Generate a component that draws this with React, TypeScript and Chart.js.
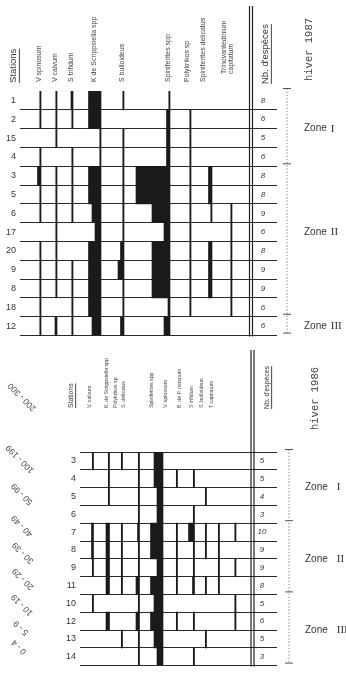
import React, { useEffect, useRef } from "react";
import { Chart, registerables } from "chart.js";

Chart.register(...registerables);

// ---------------- data ----------------
const abundanceClasses = ["0 - 4", "5 - 9", "10 - 19", "20 - 29", "30 - 39", "40 - 49", "50 - 99", "100 - 199", "200 - 300"];

const stations1987 = ["1", "2", "15", "4", "3", "5", "6", "17", "20", "9", "8", "18", "12"];
const species1987 = [
  "V spinosum", "V calvum", "S trifidum", "K de Scrippsiella spp", "S bulloideus",
  "Spiniferites spp", "Polykrikos sp", "Spiniferites delicatus", "Trinovantedinium capitatum",
];
// abundance class index (into abundanceClasses) per station (row) and species (column); null = absent
const classes1987: (number | null)[][] = [
  [0, 0, 1, 5, 0, 0, null, null, null],
  [0, 0, 0, 5, null, 2, 0, null, null],
  [null, 0, null, 0, 0, 2, 0, null, null],
  [0, null, 0, 0, 0, 2, 0, null, null],
  [2, 0, 0, 5, 0, 8, 0, 2, null],
  [0, 0, 0, 5, 0, 8, 0, 2, null],
  [0, 0, 0, 4, 0, 6, 0, 0, 0],
  [null, 0, null, 3, 0, 3, 0, null, 0],
  [0, 0, null, 5, 2, 6, 0, 2, 0],
  [0, 0, 0, 5, 3, 6, 0, 2, 0],
  [0, 0, 0, 5, 0, 6, 0, 2, 0],
  [0, null, 0, 5, 0, 1, 0, null, 0],
  [0, 1, 0, 4, 2, 3, null, null, null],
];
const nbSpecies1987 = [8, 6, 5, 6, 8, 8, 9, 6, 8, 9, 9, 6, 6];
const zones1987 = ["I", "II", "III"];
const zoneRows1987 = [[0, 3], [4, 11], [12, 12]];

const stations1986 = ["3", "4", "5", "6", "7", "8", "9", "11", "10", "12", "13", "14"];
const species1986 = [
  "V. calvum", "K. de Scrippsiella spp", "Polykrikos sp", "S. delicatus", "Spiniferites spp",
  "V. spinosum", "B. de P. minutum", "S trifidum", "S. bulloideus", "T capitatum",
];
const classes1986: (number | null)[][] = [
  [0, 0, 0, 0, 4, null, null, null, null, null],
  [null, 0, null, 0, 4, 0, 0, null, null, null],
  [null, 0, null, 0, 3, null, null, 0, null, null],
  [null, null, null, 0, 3, null, 0, null, null, null],
  [1, 2, 0, 1, 5, 0, 3, 0, 0, 0],
  [1, 2, 0, 0, 5, 0, 0, 0, 0, null],
  [0, 2, 0, 0, 3, 0, 0, null, 0, 0],
  [null, 2, 0, 2, 5, 0, 1, 0, 0, null],
  [0, null, null, 0, 4, null, null, null, null, 0],
  [null, 2, null, 2, 5, 0, 0, null, null, 0],
  [null, null, 0, 0, 4, null, null, 0, null, null],
  [null, null, null, 0, 3, null, 0, null, null, null],
];
const nbSpecies1986 = [5, 5, 4, 3, 10, 9, 9, 8, 5, 6, 5, 3];
const zones1986 = ["I", "II", "III"];
const zoneRows1986 = [[0, 3], [4, 7], [8, 11]];

// ---------------- layout / style ----------------
const CLASS_WIDTH = [1.2, 2, 3.5, 6, 9, 12.5, 18, 26, 34];
const INK = "#1a1a1a";
const TEXT = "#333";
const SANS = '"Liberation Sans", Arial, sans-serif';

type PanelCfg = {
  title: string;
  stations: string[];
  species: string[];
  classes: (number | null)[][];
  nb: number[];
  zones: string[];
  zoneRows: number[][];
  zoneLabelRow: (number | null)[];
  top: number;
  height: number;
  axisWidth: number;
  rowsTop: number;
  rowsBottom: number;
  xMax: number;
  anchors: number[];
  headerX: number[];
  headerBottom: number;
  headerFont: number;
  stationsX: number;
  stationsBottom: number;
  stationsFont: number;
  nbX: number;
  nbBottom: number;
  nbFont: number;
  nbValueX: number;
  doubleTop: number;
  doubleX: number;
  zoneX: number;
  zoneLabelX: number;
  zoneGap: number;
  titleX: number;
  titleBottom: number;
  hideTopLine: boolean;
  legend: boolean;
};

const panel1987: PanelCfg = {
  title: "hiver 1987",
  stations: stations1987,
  species: species1987,
  classes: classes1987,
  nb: nbSpecies1987,
  zones: zones1987,
  zoneRows: zoneRows1987,
  zoneLabelRow: [null, 7, null],
  top: 0,
  height: 345,
  axisWidth: 20,
  rowsTop: 91,
  rowsBottom: 337,
  xMax: 277,
  anchors: [41, 57, 73, 101, 124, 170, 191, 212, 232],
  headerX: [39, 55, 71, 94, 122, 168, 187, 203, 224],
  headerBottom: 82,
  headerFont: 7,
  stationsX: 13,
  stationsBottom: 83,
  stationsFont: 9.5,
  nbX: 265,
  nbBottom: 84,
  nbFont: 9.5,
  nbValueX: 263,
  doubleTop: 6,
  doubleX: 249.5,
  zoneX: 287,
  zoneLabelX: 304,
  zoneGap: 4,
  titleX: 309,
  titleBottom: 81,
  hideTopLine: true,
  legend: false,
};

const panel1986: PanelCfg = {
  title: "hiver 1986",
  stations: stations1986,
  species: species1986,
  classes: classes1986,
  nb: nbSpecies1986,
  zones: zones1986,
  zoneRows: zoneRows1986,
  zoneLabelRow: [null, null, null],
  top: 345,
  height: 330,
  axisWidth: 80,
  rowsTop: 107,
  rowsBottom: 329,
  xMax: 277,
  anchors: [93.5, 109.5, 122.5, 139.5, 163, 177.5, 194.5, 206.5, 219.5, 236],
  headerX: [90, 107, 116, 124, 152, 166, 180, 192, 202, 212],
  headerBottom: 63,
  headerFont: 5.2,
  stationsX: 71,
  stationsBottom: 63,
  stationsFont: 6.8,
  nbX: 267,
  nbBottom: 64,
  nbFont: 6.8,
  nbValueX: 262,
  doubleTop: 5,
  doubleX: 251,
  zoneX: 289,
  zoneLabelX: 305,
  zoneGap: 9,
  titleX: 315,
  titleBottom: 85,
  hideTopLine: false,
  legend: true,
};

// legend label centres (bottom panel canvas coords), listed from largest class to smallest
const LEGEND_POS = [
  [22, 52], [20, 114], [22, 149], [22, 181], [23, 208], [23, 234], [22, 260], [21, 283], [19, 302],
];

function vText(
  ctx: CanvasRenderingContext2D,
  text: string,
  x: number,
  yBottom: number,
  size: number,
  font: string,
  color: string,
  underline = false
) {
  ctx.save();
  ctx.translate(x, yBottom);
  ctx.rotate(-Math.PI / 2);
  ctx.font = font;
  ctx.fillStyle = color;
  ctx.textAlign = "left";
  ctx.textBaseline = "middle";
  ctx.fillText(text, 0, 0);
  if (underline) {
    const w = ctx.measureText(text).width;
    ctx.fillRect(0, size * 0.62, w, 0.9);
  }
  ctx.restore();
}

function makeOverlay(cfg: PanelCfg) {
  return {
    id: "overlay",
    afterDraw(chart: any) {
      const ctx: CanvasRenderingContext2D = chart.ctx;
      const xs = chart.scales.x;
      const ys = chart.scales.y;
      const n = cfg.stations.length;
      const rowH = (ys.bottom - ys.top) / n;
      const rowTop = (i: number) => ys.top + i * rowH;
      ctx.save();

      // species headers
      cfg.species.forEach((sp, j) => {
        const x = xs.getPixelForValue(cfg.headerX[j]);
        const f = `${cfg.headerFont}px ${SANS}`;
        if (sp === "Trinovantedinium capitatum") {
          vText(ctx, "Trinovantedinium", x, cfg.headerBottom - 8, cfg.headerFont, f, "#444");
          vText(ctx, "capitatum", x + cfg.headerFont * 0.95, cfg.headerBottom - 8, cfg.headerFont, f, "#444");
        } else {
          vText(ctx, sp, x, cfg.headerBottom, cfg.headerFont, f, "#444");
        }
      });

      // "Stations" and "Nb. d'espèces"
      vText(ctx, "Stations", cfg.stationsX, cfg.stationsBottom, cfg.stationsFont,
        `${cfg.stationsFont}px ${SANS}`, TEXT, true);
      vText(ctx, "Nb. d'espèces", cfg.nbX, cfg.nbBottom, cfg.nbFont,
        `${cfg.nbFont}px ${SANS}`, TEXT, true);

      // double line
      ctx.strokeStyle = "#222";
      ctx.lineWidth = 1.2;
      [cfg.doubleX, cfg.doubleX + 3].forEach((x) => {
        ctx.beginPath();
        ctx.moveTo(x, cfg.doubleTop);
        ctx.lineTo(x, ys.bottom + 1);
        ctx.stroke();
      });

      // species counts
      ctx.fillStyle = TEXT;
      ctx.font = `italic 8px ${SANS}`;
      ctx.textAlign = "center";
      ctx.textBaseline = "middle";
      cfg.nb.forEach((v, i) => {
        ctx.fillText(String(v), cfg.nbValueX, ys.getPixelForTick(i));
      });

      // zones
      const zTop = rowTop(cfg.zoneRows[0][0]) - 2.5;
      const zBot = rowTop(cfg.zoneRows[cfg.zoneRows.length - 1][1] + 1) - 2;
      ctx.strokeStyle = "#777";
      ctx.lineWidth = 1;
      ctx.setLineDash([1.2, 2]);
      ctx.beginPath();
      ctx.moveTo(cfg.zoneX, zTop);
      ctx.lineTo(cfg.zoneX, zBot);
      ctx.stroke();
      ctx.setLineDash([]);
      ctx.strokeStyle = "#555";
      const ticks = [zTop, ...cfg.zoneRows.map((r) => rowTop(r[1] + 1) - 2.5)];
      ticks.forEach((y) => {
        ctx.beginPath();
        ctx.moveTo(cfg.zoneX - 4, y);
        ctx.lineTo(cfg.zoneX + 4, y);
        ctx.stroke();
      });
      cfg.zones.forEach((z, k) => {
        const [a, b] = cfg.zoneRows[k];
        const lr = cfg.zoneLabelRow[k];
        const y = lr != null ? ys.getPixelForTick(lr) : (rowTop(a) + rowTop(b + 1)) / 2;
        ctx.fillStyle = TEXT;
        ctx.textAlign = "left";
        ctx.textBaseline = "middle";
        ctx.font = `10px ${SANS}`;
        ctx.fillText("Zone", cfg.zoneLabelX, y);
        const w = ctx.measureText("Zone").width;
        ctx.font = `11px "Liberation Serif", serif`;
        ctx.fillText(z, cfg.zoneLabelX + w + cfg.zoneGap, y);
      });

      // title
      vText(ctx, cfg.title, cfg.titleX, cfg.titleBottom, 10.5,
        `10.5px "Liberation Mono", "DejaVu Sans Mono", monospace`, "#444");

      // abundance class legend
      if (cfg.legend) {
        const labels = abundanceClasses.slice().reverse();
        ctx.fillStyle = "#444";
        ctx.font = `8.5px ${SANS}`;
        ctx.textAlign = "center";
        ctx.textBaseline = "middle";
        labels.forEach((t, i) => {
          const [cx, cy] = LEGEND_POS[i];
          ctx.save();
          ctx.translate(cx, cy);
          ctx.rotate((-3 * Math.PI) / 4);
          ctx.fillText(t, 0, 0);
          ctx.restore();
        });
      }
      ctx.restore();
    },
  };
}

function Panel({ cfg }: { cfg: PanelCfg }) {
  const ref = useRef<HTMLCanvasElement>(null);
  useEffect(() => {
    const datasets = cfg.species.map((sp, j) => ({
      label: sp,
      data: cfg.classes.map((row) =>
        row[j] == null ? null : [cfg.anchors[j] - CLASS_WIDTH[row[j] as number], cfg.anchors[j]]
      ),
      backgroundColor: INK,
      borderWidth: 0,
      grouped: false,
      barPercentage: 1,
      categoryPercentage: 1,
    }));
    const chart = new Chart(ref.current as HTMLCanvasElement, {
      type: "bar",
      data: { labels: cfg.stations, datasets: datasets as any },
      options: {
        responsive: false,
        maintainAspectRatio: false,
        animation: false,
        indexAxis: "y",
        layout: {
          padding: {
            top: cfg.rowsTop,
            bottom: cfg.height - cfg.rowsBottom,
            left: 0,
            right: 346 - cfg.xMax,
          },
        },
        plugins: {
          legend: { display: false },
          tooltip: { enabled: false },
        },
        scales: {
          x: { type: "linear", display: false, min: cfg.axisWidth, max: cfg.xMax },
          y: {
            type: "category",
            offset: true,
            afterFit: (s: any) => {
              s.width = cfg.axisWidth;
            },
            border: { display: false },
            grid: {
              offset: true,
              drawTicks: false,
              lineWidth: 1,
              color: (c: any) => (cfg.hideTopLine && c.index === 0 ? "rgba(0,0,0,0)" : "#2a2a2a"),
            },
            ticks: {
              autoSkip: false,
              padding: 4,
              color: TEXT,
              font: { family: "Liberation Sans", size: 9 },
            },
          },
        } as any,
      },
      plugins: [makeOverlay(cfg)],
    });
    return () => chart.destroy();
  }, [cfg]);
  return (
    <canvas
      ref={ref}
      width={346}
      height={cfg.height}
      style={{ position: "absolute", left: 0, top: cfg.top, width: 346, height: cfg.height }}
    />
  );
}

export default function App() {
  return (
    <div
      style={{
        position: "fixed",
        left: 0,
        top: 0,
        width: 346,
        height: 675,
        background: "#fff",
        overflow: "hidden",
      }}
    >
      <Panel cfg={panel1987} />
      <Panel cfg={panel1986} />
    </div>
  );
}
